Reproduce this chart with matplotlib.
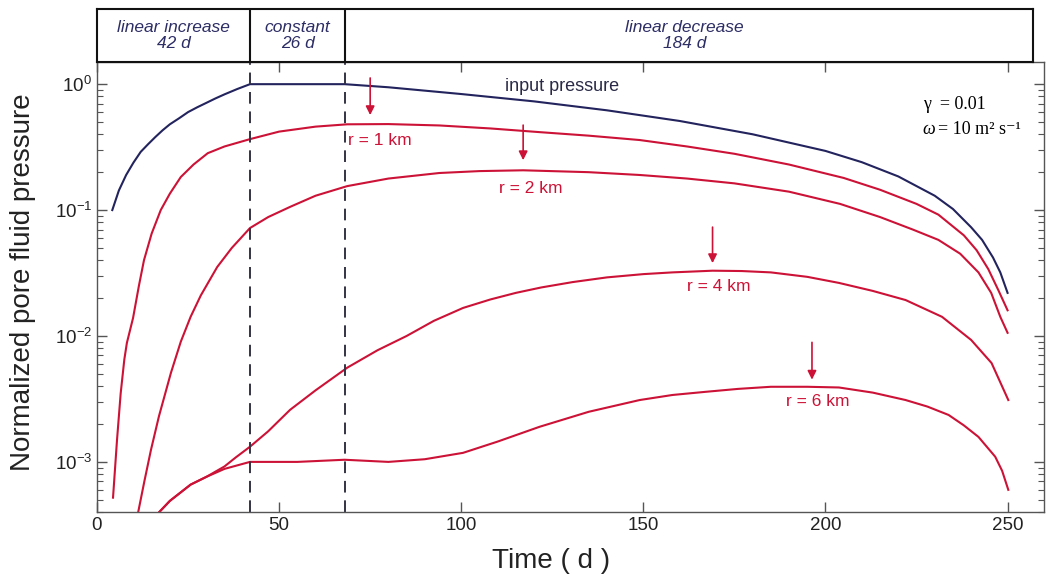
import matplotlib
matplotlib.use("Agg")
import matplotlib.pyplot as plt
from matplotlib.ticker import LogLocator, NullFormatter

plt.rcParams['font.family'] = ['Liberation Sans', 'DejaVu Sans']
plt.rcParams['mathtext.fontset'] = 'custom'
plt.rcParams['mathtext.rm'] = 'Liberation Sans'
plt.rcParams['mathtext.it'] = 'Liberation Sans:italic'

# values (time in days, normalized pressure)
t_input = [4.2, 6, 8, 10, 12, 14, 16, 18, 20, 22.5, 25, 27.5, 30, 32.5, 35,
           38.5, 42, 68, 80, 100, 120, 140, 160, 180, 200, 210, 220, 230,
           235, 240, 243, 246, 248, 250]
p_input = [0.10, 0.143, 0.19, 0.238, 0.29, 0.333, 0.38, 0.43, 0.48, 0.535,
           0.60, 0.655, 0.71, 0.77, 0.83, 0.915, 1.0, 1.0, 0.945, 0.835,
           0.73, 0.62, 0.51, 0.40, 0.295, 0.24, 0.185, 0.13, 0.102, 0.073,
           0.058, 0.042, 0.032, 0.022]

t_r1 = [4.4, 5.5, 6.5, 7.5, 8.2, 9.9, 11.5, 12.9, 15, 17.5, 20, 23, 26.5,
        30.4, 35, 42, 50, 60, 68.7, 80, 94, 108, 121.5, 135, 149, 162, 175,
        190, 205, 215, 225, 231, 238, 241.5, 244.7, 247.5, 250]
p_r1 = [5.2e-4, 1.5e-3, 3.5e-3, 6.5e-3, 8.8e-3, 0.0139, 0.025, 0.040,
        0.065, 0.10, 0.135, 0.183, 0.23, 0.283, 0.32, 0.366, 0.42, 0.46,
        0.48, 0.482, 0.47, 0.445, 0.416, 0.39, 0.36, 0.32, 0.28, 0.23,
        0.18, 0.145, 0.112, 0.092, 0.063, 0.048, 0.034, 0.023, 0.016]

t_r2 = [11.0, 13, 14.8, 17, 20.3, 23, 25.7, 28.5, 33, 37, 42, 47, 53, 60,
        68.7, 80, 94, 105, 117, 135, 149, 162, 175, 190, 204, 215, 224, 231,
        237, 242, 245.5, 248, 250]
p_r2 = [3.6e-4, 7e-4, 1.24e-3, 2.3e-3, 5.1e-3, 9e-3, 0.0142, 0.021, 0.0353,
        0.05, 0.072, 0.088, 0.106, 0.13, 0.155, 0.178, 0.197, 0.204, 0.207,
        0.20, 0.19, 0.178, 0.163, 0.14, 0.112, 0.088, 0.07, 0.058, 0.045,
        0.032, 0.022, 0.0142, 0.0106]

t_r4 = [16.0, 20, 25.7, 30, 35, 38, 42, 47, 53, 60, 68.7, 77, 85, 92.5,
        100.5, 108, 115, 122, 130.6, 140, 150, 158, 169, 177, 185, 195,
        203.7, 213, 222, 232, 240, 245.6, 250.2]
p_r4 = [3.7e-4, 4.9e-4, 6.6e-4, 7.6e-4, 9.2e-4, 1.08e-3, 1.32e-3, 1.75e-3,
        2.59e-3, 3.7e-3, 5.6e-3, 7.7e-3, 1.0e-2, 1.32e-2, 0.0167, 0.0195,
        0.022, 0.0243, 0.0268, 0.0292, 0.031, 0.032, 0.033, 0.0328, 0.032,
        0.0295, 0.0264, 0.0228, 0.0193, 0.0142, 0.0093, 0.0061, 0.0031]

t_r6 = [16.0, 20, 25.7, 30, 35, 42, 55, 68, 80, 90, 100.5, 110, 121.5, 135,
        149, 158, 167, 176, 185, 195, 203.7, 213, 222, 228, 233.8, 238, 242,
        246.6, 248.5, 250.2]
p_r6 = [3.7e-4, 4.9e-4, 6.6e-4, 7.6e-4, 8.8e-4, 1.0e-3, 1.0e-3, 1.04e-3,
        1.0e-3, 1.05e-3, 1.18e-3, 1.45e-3, 1.9e-3, 2.5e-3, 3.1e-3, 3.4e-3,
        3.6e-3, 3.8e-3, 3.95e-3, 3.95e-3, 3.9e-3, 3.55e-3, 3.1e-3, 2.75e-3,
        2.36e-3, 1.95e-3, 1.58e-3, 1.1e-3, 8.5e-4, 6.0e-4]

phase_edges = [42, 68]
phase_names = ["linear increase", "constant", "linear decrease"]
phase_days = ["42 d", "26 d", "184 d"]
phase_centers = [21, 55, 161]

labels = ["r = 1 km", "r = 2 km", "r = 4 km", "r = 6 km"]
label_pos = [(77.7, 0.36), (119, 0.149), (170.8, 0.0245), (198, 0.003)]
arrow_t = [75, 117, 169, 196.3]
arrow_from = [1.12, 0.473, 0.0732, 8.9e-3]
arrow_to = [0.568, 0.249, 0.0379, 4.5e-3]

navy = '#23235e'
red = '#cc1236'
W, H = 1049, 574

fig = plt.figure(figsize=(W / 100, H / 100), dpi=100)
ax = fig.add_axes([97 / W, 1 - 512 / H, (1044 - 97) / W, (512 - 62) / H])
hx = fig.add_axes([97 / W, 1 - 62 / H, (1033 - 97) / W, (62 - 9) / H])

ax.plot(t_input, p_input, color=navy, lw=1.5)
for tt, pp in [(t_r1, p_r1), (t_r2, p_r2), (t_r4, p_r4), (t_r6, p_r6)]:
    ax.plot(tt, pp, color=red, lw=1.5)

for e in phase_edges:
    ax.axvline(e, color='#333344', lw=1.4, ls=(0, (6, 4)))

for lab, (lx, ly) in zip(labels, label_pos):
    ax.text(lx, ly, lab, color=red, fontsize=12.5, ha='center', va='center')
for at, a0, a1 in zip(arrow_t, arrow_from, arrow_to):
    ax.annotate('', xy=(at, a1), xytext=(at, a0),
                arrowprops=dict(arrowstyle='-|>', color=red, lw=1.2,
                                mutation_scale=13, shrinkA=0, shrinkB=0))

ax.text(127.8, 0.95, "input pressure", color='#2a2a48', fontsize=13,
        ha='center', va='center')

serif = ['Liberation Serif', 'DejaVu Serif']
ax.text(0.872, 0.905, "γ  = 0.01", transform=ax.transAxes, family=serif,
        fontsize=13, va='center')
ax.text(0.872, 0.85, "ω", transform=ax.transAxes, family=serif,
        style='italic', fontsize=13, va='center')
ax.text(0.888, 0.85, "= 10 m² s⁻¹", transform=ax.transAxes, family=serif,
        fontsize=13, va='center')

ax.set_yscale('log')
ax.set_xlim(0, 260)
ax.set_ylim(4e-4, 1.5)
ax.set_xticks([0, 50, 100, 150, 200, 250])
ax.set_yticks([1e-3, 1e-2, 1e-1, 1e0])
ax.yaxis.set_minor_locator(LogLocator(base=10, subs=range(2, 10)))
ax.yaxis.set_minor_formatter(NullFormatter())
ax.tick_params(which='both', direction='in', top=True, right=True,
               colors='#555555', labelcolor='#222222', labelsize=13.5)
ax.tick_params(which='major', length=7, width=1)
ax.tick_params(which='minor', length=4, width=0.8)
for s in ax.spines.values():
    s.set_color('#555555')
    s.set_linewidth(1.0)

ax.set_xlabel("Time ( d )", fontsize=20, color='#222222')
ax.xaxis.set_label_coords(0.479, -0.08)
ax.set_ylabel("Normalized pore fluid pressure", fontsize=20,
              color='#222222')
ax.yaxis.set_label_coords(-0.064, 0.51)

# header with the pressure phases
hx.set_xlim(0, (1033 - 96) / 3.653)
hx.set_ylim(0, 1)
hx.set_xticks([])
hx.set_yticks([])
for s in hx.spines.values():
    s.set_linewidth(1.5)
    s.set_color('#111111')
for e in phase_edges:
    hx.axvline(e, color='#111111', lw=1.5)
for name, days, c in zip(phase_names, phase_days, phase_centers):
    hx.text(c, 0.566, name, color='#2d2d66', style='italic', fontsize=12.5,
            ha='center', va='baseline')
    hx.text(c, 0.264, days, color='#2d2d66', style='italic', fontsize=12.5,
            ha='center', va='baseline')

fig.savefig("out.png", dpi=100)
